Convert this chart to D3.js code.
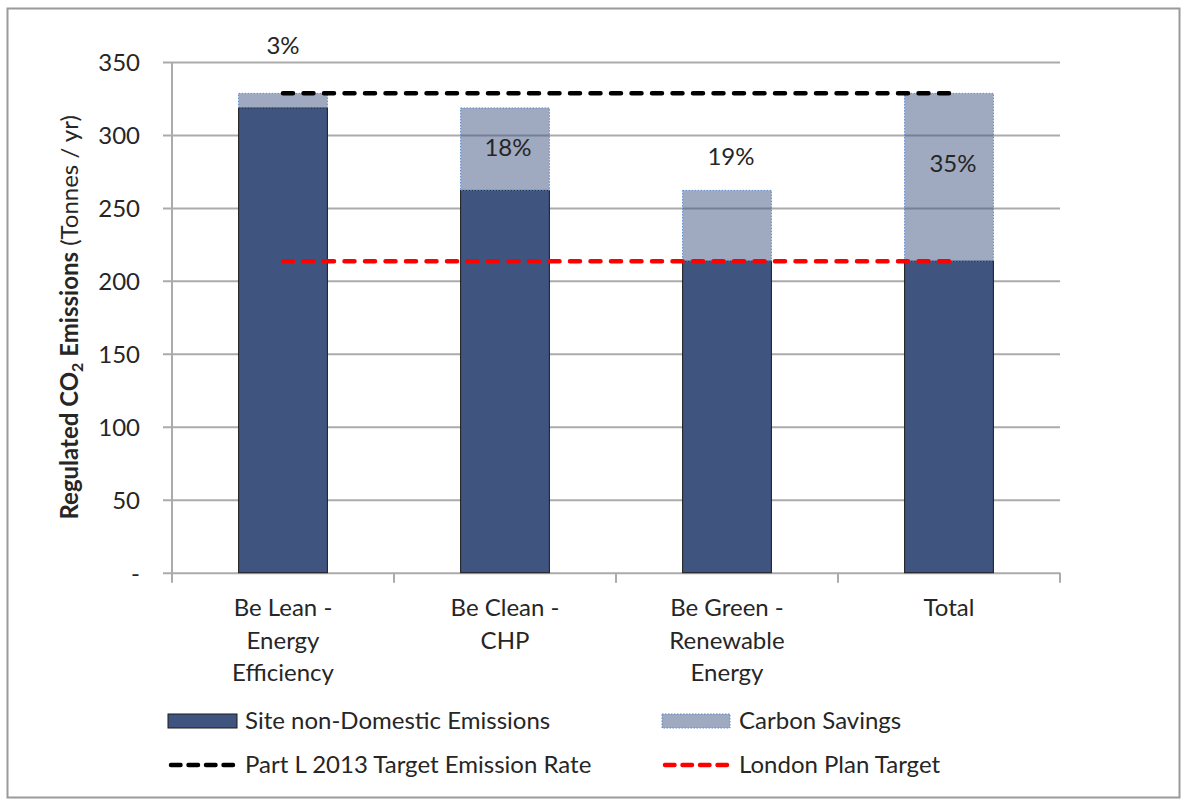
<!DOCTYPE html>
<html>
<head>
<meta charset="utf-8">
<script src="https://cdn.jsdelivr.net/npm/d3@7"></script>
<style>
  html, body { margin: 0; padding: 0; background: #fff; }
  svg text { font-family: Lato, "Noto Sans", sans-serif; fill: #262626; }
</style>
</head>
<body>
<svg id="chart" width="1181" height="799"></svg>
<script>
// Regulated CO2 emissions by energy hierarchy stage (tonnes / yr)
const categories = [
  ["Be Lean -", "Energy", "Efficiency"],
  ["Be Clean -", "CHP"],
  ["Be Green -", "Renewable", "Energy"],
  ["Total"]
];
const emissions = [318.5, 262, 213.5, 213.5];   // Site non-Domestic Emissions
const savings   = [10, 56.5, 48.5, 115];        // Carbon Savings
const savingLabels = ["3%", "18%", "19%", "35%"];
const partLTarget = 328.5;      // Part L 2013 Target Emission Rate
const londonPlanTarget = 213.5; // London Plan Target
const yTicks = [0, 50, 100, 150, 200, 250, 300, 350];

const svg = d3.select("#chart");
const W = 1181, H = 799;
const plot = { left: 172, right: 1060, top: 62, bottom: 572.7 };

const dark = "rgb(64,84,128)";
const gridColor = "#ababab";

// outer frame
svg.append("rect")
  .attr("x", 7.5).attr("y", 8.5)
  .attr("width", 1172).attr("height", 789)
  .attr("fill", "#fff").attr("stroke", "#9a9a9a").attr("stroke-width", 2);

const keys = d3.range(categories.length);
const x = d3.scaleBand().domain(keys).range([plot.left, plot.right])
  .paddingInner(0.6).paddingOuter(0.3);
const step = (plot.right - plot.left) / categories.length;
const y = d3.scaleLinear().domain([0, 350]).range([plot.bottom, plot.top]);

// horizontal gridlines with outward ticks
const yAxis = d3.axisLeft(y).tickValues(yTicks)
  .tickSize(-(plot.right - plot.left)).tickFormat(d => d === 0 ? "-" : d);
const gy = svg.append("g").attr("transform", `translate(${plot.left},0)`).call(yAxis);
gy.select(".domain").remove();
gy.selectAll(".tick line")
  .attr("x1", -9).attr("stroke", gridColor).attr("stroke-width", 2);
gy.selectAll(".tick text")
  .attr("x", -32).attr("dy", "0.35em")
  .style("font-size", "24px").style("font-family", "Lato, sans-serif").attr("fill", "#262626");

// vertical axis line
svg.append("line")
  .attr("x1", plot.left).attr("x2", plot.left)
  .attr("y1", plot.top).attr("y2", plot.bottom + 10)
  .attr("stroke", gridColor).attr("stroke-width", 2);

// category separator ticks
svg.append("g").selectAll("line")
  .data(d3.range(1, categories.length + 1))
  .join("line")
  .attr("x1", d => plot.left + d * step).attr("x2", d => plot.left + d * step)
  .attr("y1", plot.bottom).attr("y2", plot.bottom + 10)
  .attr("stroke", gridColor).attr("stroke-width", 2);

// emissions bars
svg.append("g").selectAll("rect")
  .data(keys)
  .join("rect")
  .attr("x", i => x(i)).attr("width", x.bandwidth())
  .attr("y", i => y(emissions[i]))
  .attr("height", i => y(0) - y(emissions[i]))
  .attr("fill", dark).attr("stroke", "#1a1a1a").attr("stroke-width", 1);

// savings bars (semi-transparent, dotted edge)
svg.append("g").selectAll("rect")
  .data(keys)
  .join("rect")
  .attr("x", i => x(i)).attr("width", x.bandwidth())
  .attr("y", i => y(emissions[i] + savings[i]))
  .attr("height", i => y(emissions[i]) - y(emissions[i] + savings[i]))
  .attr("fill", dark).attr("fill-opacity", 0.5)
  .attr("stroke", "#5b8bd0").attr("stroke-width", 1).attr("stroke-dasharray", "1.5 1.5");

// target lines, spanning first to last category centre
const xc = i => x(i) + x.bandwidth() / 2;
const dashStyle = sel => sel.attr("stroke-width", 4.5).attr("stroke-linecap", "round")
  .attr("stroke-dasharray", "10 10.5").attr("fill", "none");
svg.append("line")
  .attr("x1", xc(0)).attr("x2", xc(categories.length - 1))
  .attr("y1", y(partLTarget)).attr("y2", y(partLTarget))
  .attr("stroke", "#000").call(dashStyle);
svg.append("line")
  .attr("x1", xc(0)).attr("x2", xc(categories.length - 1))
  .attr("y1", y(londonPlanTarget)).attr("y2", y(londonPlanTarget))
  .attr("stroke", "#ff0000").call(dashStyle);

// saving percentage labels, offset from each bar top
const labelOffsets = [[0, -48], [3, 40], [4, -34], [4, 70]];
svg.append("g").selectAll("text")
  .data(keys)
  .join("text")
  .attr("x", i => xc(i) + labelOffsets[i][0])
  .attr("y", i => y(emissions[i] + savings[i]) + labelOffsets[i][1])
  .attr("dy", "0.35em").attr("text-anchor", "middle")
  .style("font-size", "24px")
  .text(i => savingLabels[i]);

// category labels
const catG = svg.append("g").selectAll("text")
  .data(keys)
  .join("text")
  .attr("text-anchor", "middle")
  .style("font-size", "24px");
catG.selectAll("tspan")
  .data(i => categories[i].map(line => ({ i, line })))
  .join("tspan")
  .attr("x", d => xc(d.i))
  .attr("y", (d, k) => 608 + k * 32.5)
  .attr("dy", "0.35em")
  .text(d => d.line);

// y-axis title
const title = svg.append("text")
  .attr("transform", `translate(70,${(plot.top + plot.bottom) / 2}) rotate(-90)`)
  .attr("text-anchor", "middle").attr("dy", "0.35em")
  .style("font-size", "24px");
title.append("tspan").style("font-weight", "bold").text("Regulated CO");
title.append("tspan").style("font-weight", "bold").style("font-size", "16px")
  .attr("dy", "5").text("2");
title.append("tspan").style("font-weight", "bold").attr("dy", "-5").text(" Emissions");
title.append("tspan").text(" (Tonnes / yr)");

// legend
const legend = [
  { label: "Site non-Domestic Emissions", type: "bar", x: 168, y: 721 },
  { label: "Carbon Savings", type: "saving", x: 662, y: 721 },
  { label: "Part L 2013 Target Emission Rate", type: "line", color: "#000", x: 168, y: 765 },
  { label: "London Plan Target", type: "line", color: "#ff0000", x: 662, y: 765 }
];
const lg = svg.append("g").selectAll("g").data(legend).join("g")
  .attr("transform", d => `translate(${d.x},${d.y})`);
lg.filter(d => d.type === "bar").append("rect")
  .attr("x", 0).attr("y", -7).attr("width", 69).attr("height", 14)
  .attr("fill", dark).attr("stroke", "#1a1a1a").attr("stroke-width", 1);
lg.filter(d => d.type === "saving").append("rect")
  .attr("x", 0).attr("y", -7).attr("width", 68).attr("height", 14)
  .attr("fill", dark).attr("fill-opacity", 0.5)
  .attr("stroke", "#5b8bd0").attr("stroke-width", 1).attr("stroke-dasharray", "1.5 1.5");
lg.filter(d => d.type === "line").append("line")
  .attr("x1", 3).attr("x2", 67).attr("y1", 0).attr("y2", 0)
  .attr("stroke", d => d.color)
  .attr("stroke-width", 4.5).attr("stroke-linecap", "round")
  .attr("stroke-dasharray", "9.5 8");
lg.append("text")
  .attr("x", 77).attr("dy", "0.35em")
  .style("font-size", "24px")
  .text(d => d.label);
</script>
</body>
</html>
